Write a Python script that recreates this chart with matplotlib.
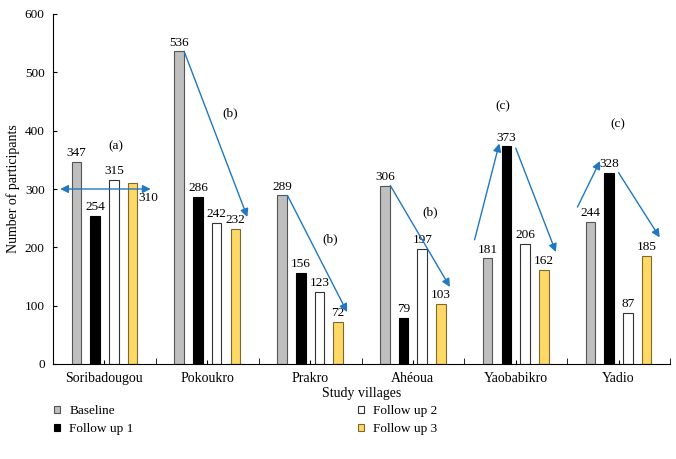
import matplotlib
matplotlib.use("Agg")
import matplotlib.pyplot as plt
from matplotlib.patches import Patch
import numpy as np

plt.rcParams['font.family'] = ['Liberation Serif', 'DejaVu Serif']

villages = ['Soribadougou', 'Pokoukro', 'Prakro', 'Ahéoua', 'Yaobabikro', 'Yadio']
series_names = ['Baseline', 'Follow up 1', 'Follow up 2', 'Follow up 3']
baseline = [347, 536, 289, 306, 181, 244]
follow1 = [254, 286, 156, 79, 373, 328]
follow2 = [315, 242, 123, 197, 206, 87]
follow3 = [310, 232, 72, 103, 162, 185]
trend_labels = ['(a)', '(b)', '(b)', '(b)', '(c)', '(c)']

series = [baseline, follow1, follow2, follow3]
fills = ['#bfbfbf', '#000000', '#ffffff', '#ffd966']
edges = ['#555555', '#000000', '#333333', '#7a6a30']

fig = plt.figure(figsize=(6.76, 4.59), dpi=100)
ax = fig.add_axes([53/676, 1-364/459, 617/676, 350/459])

x = np.arange(len(villages))
offsets = [-0.273, -0.091, 0.091, 0.273]
width = 0.093
for vals, off, fc, ec in zip(series, offsets, fills, edges):
    ax.bar(x + off, vals, width=width, color=fc, edgecolor=ec, linewidth=0.8, zorder=2)

# value labels
for si, (vals, off) in enumerate(zip(series, offsets)):
    for gi, v in enumerate(vals):
        if si == 3 and gi == 0:
            ax.annotate(str(v), (x[gi] + off + width/2, v), xytext=(1, -11),
                        textcoords='offset points', ha='left', va='center', fontsize=9.5)
        else:
            ax.annotate(str(v), (x[gi] + off, v), xytext=(0, 2),
                        textcoords='offset points', ha='center', va='bottom', fontsize=9.5)

blue = '#1f78c1'
def arrow(x0, y0, x1, y1, style='-|>'):
    ax.annotate('', xy=(x1, y1), xytext=(x0, y0),
                arrowprops=dict(arrowstyle=style, color=blue, lw=1.0,
                                mutation_scale=12, shrinkA=0, shrinkB=0), zorder=5)

arrow(-0.43, 300, 0.45, 300, '<|-|>')
arrow(1 - 0.225, baseline[1], 1 + 0.39, 252)
arrow(2 - 0.22, baseline[2], 2 + 0.36, 89)
arrow(3 - 0.22, baseline[3], 3 + 0.36, 132)
arrow(4 - 0.40, 213, 4 - 0.16, 378)
arrow(4 - 0.0, 370, 4 + 0.39, 192)
arrow(5 - 0.40, 269, 5 - 0.18, 348)
arrow(5 + 0.0, 328, 5 + 0.40, 217)

trend_pos = [(0.11, 373), (0.22, 430), (0.2, 214), (0.17, 260), (-0.13, 441), (-0.01, 411)]
for gi, (lab, (dx, y)) in enumerate(zip(trend_labels, trend_pos)):
    ax.text(gi + dx, y, lab, ha='center', va='center', fontsize=9.5)

ax.set_xlim(-0.5, 5.5)
ax.set_ylim(0, 600)
ax.set_yticks(range(0, 601, 100))
ax.set_xticks(x)
ax.set_xticklabels(villages, fontsize=10)
ax.set_xticks(np.arange(-0.5, 6, 1.0), minor=True)
ax.tick_params(axis='x', which='major', direction='in', length=3, pad=6)
ax.tick_params(axis='x', which='minor', direction='in', length=4)
ax.tick_params(axis='y', direction='in', length=3, labelsize=9.5, pad=6)
for s in ['top', 'right']:
    ax.spines[s].set_visible(False)
ax.set_xlabel('Study villages', fontsize=10, labelpad=1)
ax.set_ylabel('Number of participants', fontsize=10, labelpad=3)

handles = [Patch(facecolor=fc, edgecolor=ec, linewidth=0.8) for fc, ec in zip(fills, edges)]
for cols, xpos in [((0, 1), 54/676), ((2, 3), 358/676)]:
    fig.legend([handles[i] for i in cols], [series_names[i] for i in cols],
               loc='upper left', bbox_to_anchor=(xpos, 1-405/459), frameon=False,
               fontsize=9.5, handlelength=0.45, handleheight=0.45, handletextpad=0.7,
               labelspacing=0.45, borderpad=0.0, borderaxespad=0)

fig.savefig('out.png', dpi=100)
